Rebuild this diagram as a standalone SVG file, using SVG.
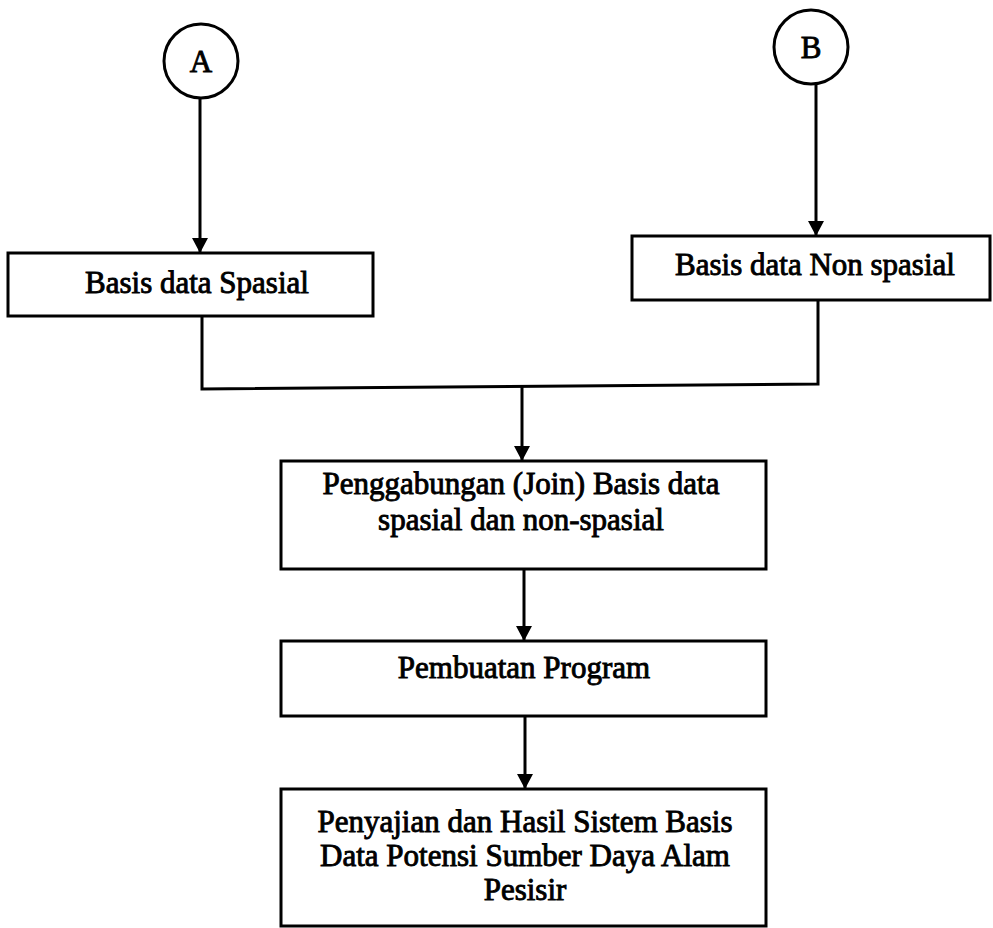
<svg xmlns="http://www.w3.org/2000/svg" width="993" height="928" viewBox="0 0 993 928">
<defs>
<style>
.box{fill:#fff;stroke:#000;stroke-width:3}
.circ{fill:#fff;stroke:#000;stroke-width:3}
.ln{fill:none;stroke:#000;stroke-width:3}
text{font-family:"Liberation Serif","Times New Roman",serif;font-size:31px;fill:#000;stroke:#000;stroke-width:0.9;text-anchor:middle}
</style>
<marker id="arr" viewBox="0 0 15 16" refX="15" refY="8" markerWidth="15" markerHeight="16" markerUnits="userSpaceOnUse" orient="auto">
<path d="M0,0 L15,8 L0,16 Z" fill="#000"/>
</marker>
</defs>
<rect width="993" height="928" fill="#fff"/>
<g id="connectors">
<line class="ln" x1="200" y1="98" x2="200" y2="253" marker-end="url(#arr)"/>
<line class="ln" x1="816" y1="84" x2="816" y2="236" marker-end="url(#arr)"/>
<polyline class="ln" points="202,316 202,389 818,384 818,300"/>
<line class="ln" x1="522" y1="386" x2="522" y2="461" marker-end="url(#arr)"/>
<line class="ln" x1="524" y1="569" x2="524" y2="641" marker-end="url(#arr)"/>
<line class="ln" x1="525" y1="716" x2="525" y2="789" marker-end="url(#arr)"/>
</g>
<g id="nodeA">
<circle class="circ" cx="201" cy="61" r="37"/>
<text x="201" y="72">A</text>
</g>
<g id="nodeB">
<circle class="circ" cx="811" cy="47" r="37"/>
<text x="811" y="58">B</text>
</g>
<g id="spasial">
<rect class="box" x="8" y="253" width="365" height="63"/>
<text x="197" y="293">Basis data Spasial</text>
</g>
<g id="nonspasial">
<rect class="box" x="632" y="236" width="358" height="64"/>
<text x="815" y="275">Basis data Non spasial</text>
</g>
<g id="join">
<rect class="box" x="281" y="461" width="485" height="108"/>
<text x="521" y="494">Penggabungan (Join) Basis data</text>
<text x="521" y="530">spasial dan non-spasial</text>
</g>
<g id="program">
<rect class="box" x="281" y="641" width="485" height="75"/>
<text x="524" y="678">Pembuatan Program</text>
</g>
<g id="penyajian">
<rect class="box" x="281" y="789" width="485" height="137"/>
<text x="525" y="832">Penyajian dan Hasil Sistem Basis</text>
<text x="525" y="866">Data Potensi Sumber Daya Alam</text>
<text x="525" y="900">Pesisir</text>
</g>
</svg>
